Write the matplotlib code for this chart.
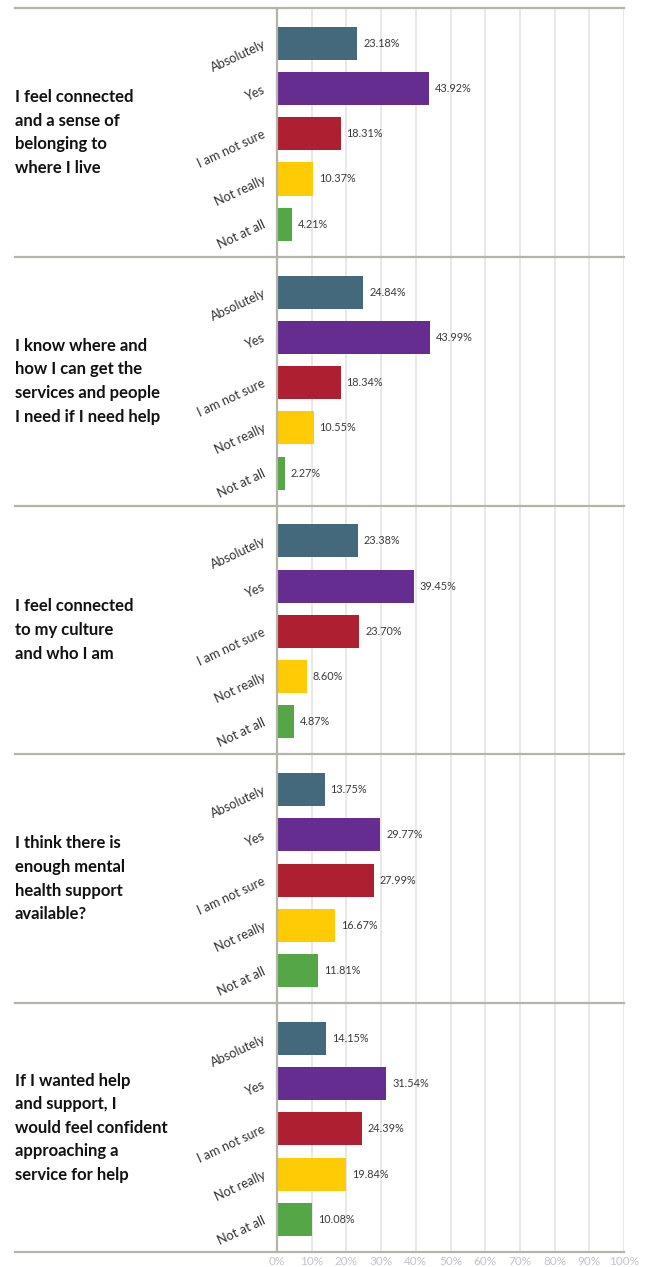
import matplotlib.pyplot as plt
import numpy as np

plt.rcParams['font.family'] = ['Lato', 'DejaVu Sans']

# survey statements, one block each
questions = [
    "I feel connected\nand a sense of\nbelonging to\nwhere I live",
    "I know where and\nhow I can get the\nservices and people\nI need if I need help",
    "I feel connected\nto my culture\nand who I am",
    "I think there is\nenough mental\nhealth support\navailable?",
    "If I wanted help\nand support, I\nwould feel confident\napproaching a\nservice for help",
]
answers = ["Absolutely", "Yes", "I am not sure", "Not really", "Not at all"]
answer_colors = ["#44687c", "#652d90", "#ad1f31", "#fecb05", "#55a646"]

belonging = [23.18, 43.92, 18.31, 10.37, 4.21]
services = [24.84, 43.99, 18.34, 10.55, 2.27]
culture = [23.38, 39.45, 23.70, 8.60, 4.87]
mental_health = [13.75, 29.77, 27.99, 16.67, 11.81]
confident = [14.15, 31.54, 24.39, 19.84, 10.08]
results = [belonging, services, culture, mental_health, confident]

x_ticks = list(range(0, 101, 10))

W, H = 647, 1267
fig = plt.figure(figsize=(W / 100, H / 100), dpi=100)
ax = fig.add_axes([277 / W, 1 - 1252 / H, (624 - 277) / W, (1252 - 8) / H])

block = 5.5      # height of one statement block in bar slots
bar_h = 0.73
line_col = "#b4b4a8"

for g, vals in enumerate(results):
    top = g * block
    ys = top + 0.78 + np.arange(len(vals))
    ax.barh(ys, vals, height=bar_h, color=answer_colors, zorder=3)
    for y, v, lab in zip(ys, vals, answers):
        ax.text(v + 1.7, y, f"{v:.2f}%", va="center", ha="left",
                fontsize=7.8, color="#3a3a3a")
        ax.text(-0.035, y, lab, transform=ax.get_yaxis_transform(),
                rotation=25, rotation_mode="anchor", ha="right", va="center",
                fontsize=9.2, color="#333333")
    ax.text(-0.755, top + block / 2, questions[g], transform=ax.get_yaxis_transform(),
            ha="left", va="center", fontsize=12, fontweight="bold",
            color="#111111", linespacing=1.58)

# separators between statement blocks
for g in range(len(results) + 1):
    ax.plot([-0.755, 1.0], [g * block, g * block], transform=ax.get_yaxis_transform(),
            color=line_col, lw=1.6, clip_on=False, zorder=4)

ax.set_ylim(block * len(results), 0)
ax.set_xlim(0, 100)
ax.set_yticks([])
ax.set_xticks(x_ticks)
ax.set_xticklabels([f"{t}%" for t in x_ticks], fontsize=8.5, color="#c4c4c4")
ax.tick_params(axis="x", length=0, pad=3)
ax.xaxis.grid(True, color="#e2e2e2", lw=1.1)
ax.set_axisbelow(True)

for side in ["top", "right", "bottom"]:
    ax.spines[side].set_visible(False)
ax.spines["left"].set_color(line_col)
ax.spines["left"].set_linewidth(1.6)
ax.spines["left"].set_zorder(5)

fig.savefig("out.png", dpi=100)
